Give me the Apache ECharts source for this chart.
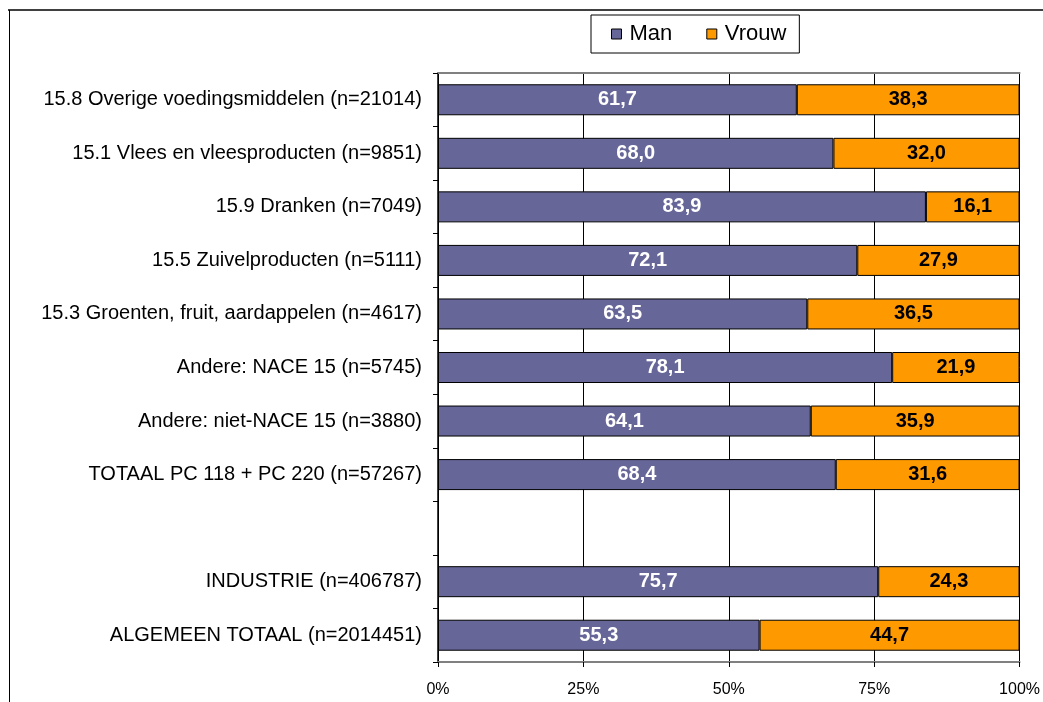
<!DOCTYPE html>
<html>
<head>
<meta charset="utf-8">
<script src="https://cdn.jsdelivr.net/npm/echarts@6/dist/echarts.min.js"></script>
<style>
  html, body { margin: 0; padding: 0; background: #fff; }
  #chart { width: 1043px; height: 702px; }
</style>
</head>
<body>
<div id="chart"></div>
<script>
const categories = [
  '15.8 Overige voedingsmiddelen (n=21014)',
  '15.1 Vlees en vleesproducten (n=9851)',
  '15.9 Dranken (n=7049)',
  '15.5 Zuivelproducten (n=5111)',
  '15.3 Groenten, fruit, aardappelen (n=4617)',
  'Andere: NACE 15 (n=5745)',
  'Andere: niet-NACE 15 (n=3880)',
  'TOTAAL PC 118 + PC 220 (n=57267)',
  '',
  'INDUSTRIE (n=406787)',
  'ALGEMEEN TOTAAL (n=2014451)'
]
const man = [61.7, 68.0, 83.9, 72.1, 63.5, 78.1, 64.1, 68.4, null, 75.7, 55.3]
const vrouw = [38.3, 32.0, 16.1, 27.9, 36.5, 21.9, 35.9, 31.6, null, 24.3, 44.7]
const xTicks = [0, 25, 50, 75, 100]

const FONT = '"Liberation Sans", Arial, sans-serif'
const fmt = p => p.value == null ? '' : p.value.toFixed(1).replace('.', ',')

const chart = echarts.init(document.getElementById('chart'))

chart.setOption({
  animation: false,
  textStyle: { fontFamily: FONT },
  graphic: [
    // outer frame (only top and left visible)
    { type: 'line', shape: { x1: 8, y1: 10, x2: 1043, y2: 10 }, style: { stroke: '#404040', lineWidth: 2 } },
    { type: 'line', shape: { x1: 9.5, y1: 10, x2: 9.5, y2: 702 }, style: { stroke: '#000', lineWidth: 1 } }
  ],
  legend: {
    data: ['Man', 'Vrouw'],
    icon: 'rect',
    left: 591,
    top: 15,
    padding: [8, 13, 8, 20],
    itemWidth: 10,
    itemHeight: 10,
    itemGap: 34,
    borderColor: '#000',
    borderWidth: 1,
    textStyle: { fontFamily: FONT, fontSize: 22, color: '#000', padding: [0, 0, 0, 3] },
    itemStyle: { borderColor: '#000', borderWidth: 1 }
  },
  grid: { left: 438, right: 23, top: 73, bottom: 40 },
  xAxis: [
    {
      type: 'value',
      min: 0,
      max: 100,
      interval: 25,
      position: 'bottom',
      axisLine: { show: true, lineStyle: { color: '#808080', width: 2 } },
      axisTick: { show: true, length: 5, lineStyle: { color: '#000' } },
      axisLabel: {
        margin: 20,
        fontSize: 16,
        color: '#000',
        fontFamily: FONT,
        formatter: v => xTicks.includes(v) ? v + '%' : ''
      },
      splitLine: { show: true, lineStyle: { color: '#000', width: 1 } }
    },
    {
      type: 'value',
      min: 0,
      max: 100,
      interval: 25,
      position: 'top',
      axisLine: { show: true, lineStyle: { color: '#808080', width: 2 } },
      axisTick: { show: false },
      axisLabel: { show: false },
      splitLine: { show: false }
    }
  ],
  yAxis: {
    type: 'category',
    data: categories,
    inverse: true,
    axisLine: { show: true, lineStyle: { color: '#000', width: 1.5 } },
    axisTick: { show: true, length: 5, lineStyle: { color: '#000' } },
    axisLabel: { margin: 16, fontSize: 20, color: '#000', fontFamily: FONT }
  },
  series: [
    {
      name: 'Man',
      type: 'bar',
      stack: 'total',
      barWidth: 31,
      data: man,
      itemStyle: { color: '#666699', borderColor: '#000', borderWidth: 1 },
      label: {
        show: true,
        position: 'inside',
        color: '#fff',
        fontWeight: 'bold',
        fontSize: 20,
        fontFamily: FONT,
        formatter: fmt
      }
    },
    {
      name: 'Vrouw',
      type: 'bar',
      stack: 'total',
      barWidth: 31,
      data: vrouw,
      itemStyle: { color: '#FF9900', borderColor: '#000', borderWidth: 1 },
      label: {
        show: true,
        position: 'inside',
        color: '#000',
        fontWeight: 'bold',
        fontSize: 20,
        fontFamily: FONT,
        formatter: fmt
      }
    }
  ]
})
</script>
</body>
</html>
